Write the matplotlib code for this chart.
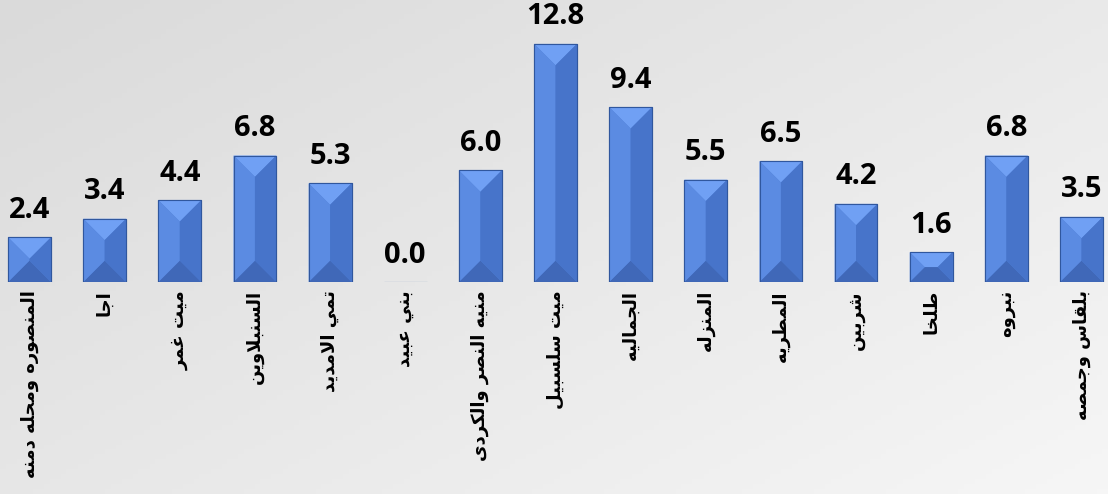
import numpy as np
import matplotlib
matplotlib.use('Agg')
import matplotlib.pyplot as plt
from matplotlib.patches import Polygon
from matplotlib.colors import LinearSegmentedColormap

districts = ['المنصوره ومحله دمنه', 'اجا', 'ميت غمر', 'السنبلاوين', 'تمي الامديد',
             'بني عبيد', 'منيه النصر والكردى', 'ميت سلسبيل', 'الجماليه', 'المنزله',
             'المطريه', 'شربين', 'طلخا', 'نبروه', 'بلقاس وجمصه']
values = [2.4, 3.4, 4.4, 6.8, 5.3, 0.0, 6.0, 12.8, 9.4, 5.5, 6.5, 4.2, 1.6, 6.8, 3.5]

# matplotlib has no arabic shaping, so pick presentation forms by hand
DUAL = {'ب': 0xFE8F, 'ت': 0xFE95, 'ث': 0xFE99, 'ج': 0xFE9D, 'ح': 0xFEA1, 'خ': 0xFEA5,
        'س': 0xFEB1, 'ش': 0xFEB5, 'ص': 0xFEB9, 'ض': 0xFEBD, 'ط': 0xFEC1, 'ظ': 0xFEC5,
        'ع': 0xFEC9, 'غ': 0xFECD, 'ف': 0xFED1, 'ق': 0xFED5, 'ك': 0xFED9, 'ل': 0xFEDD,
        'م': 0xFEE1, 'ن': 0xFEE5, 'ه': 0xFEE9, 'ي': 0xFEF1}
RIGHT = {'ا': 0xFE8D, 'أ': 0xFE83, 'إ': 0xFE87, 'آ': 0xFE81, 'ة': 0xFE93, 'د': 0xFEA9,
         'ذ': 0xFEAB, 'ر': 0xFEAD, 'ز': 0xFEAF, 'و': 0xFEED, 'ى': 0xFEEF, 'LA': 0xFEFB}


def shape(text):
    toks = []
    i = 0
    while i < len(text):
        if text[i] == 'ل' and i + 1 < len(text) and text[i + 1] == 'ا':
            toks.append('LA')
            i += 2
        else:
            toks.append(text[i])
            i += 1
    out = []
    for k, t in enumerate(toks):
        prev_j = k > 0 and toks[k - 1] in DUAL
        next_j = t in DUAL and k + 1 < len(toks) and (toks[k + 1] in DUAL or toks[k + 1] in RIGHT)
        if t in DUAL:
            b = DUAL[t]
            if prev_j and next_j:
                out.append(chr(b + 3))
            elif prev_j:
                out.append(chr(b + 1))
            elif next_j:
                out.append(chr(b + 2))
            else:
                out.append(chr(b))
        elif t in RIGHT:
            out.append(chr(RIGHT[t] + (1 if prev_j else 0)))
        else:
            out.append(t)
    return ''.join(out[::-1])


W, H = 1108, 494
fig = plt.figure(figsize=(W / 100, H / 100), dpi=100)

# background gradient, darker top-left to lighter bottom-right
bg = fig.add_axes([0, 0, 1, 1])
gx, gy = np.meshgrid(np.linspace(0, 1, 200), np.linspace(0, 1, 100))
grad = 0.55 * gx + 0.45 * (1 - gy)
bg_cmap = LinearSegmentedColormap.from_list('bg', ['#dadada', '#f6f6f6'])
bg.imshow(grad, cmap=bg_cmap, vmin=0, vmax=1, aspect='auto', origin='lower',
          extent=[0, 1, 0, 1])
bg.set_axis_off()

base_px = 212
ax = fig.add_axes([0, base_px / H, 1, (H - base_px) / H])
ax.patch.set_alpha(0)
x = np.arange(len(values))
xlim = (-0.393, 14.353)
ylim = (0, (H - base_px) / 18.6)
ax.set_xlim(*xlim)
ax.set_ylim(*ylim)
ax.set_axis_off()

width = 0.57
bars = ax.bar(x, values, width=width, color='#4f7fd6', edgecolor='#30579e', linewidth=0.8, zorder=2)

px_x = W / (xlim[1] - xlim[0])
px_y = (H - base_px) / (ylim[1] - ylim[0])
for rect in bars:
    x0 = rect.get_x()
    x1 = x0 + rect.get_width()
    y0 = 0
    y1 = rect.get_height()
    if y1 <= 0:
        continue
    b = min(rect.get_width() * px_x / 2, y1 * px_y / 2)
    bx, by = b / px_x, b / px_y
    ix0, ix1, iy0, iy1 = x0 + bx, x1 - bx, y0 + by, y1 - by
    faces = [
        ([(x0, y1), (x1, y1), (ix1, iy1), (ix0, iy1)], '#70a0f4'),
        ([(x0, y0), (x1, y0), (ix1, iy0), (ix0, iy0)], '#4068b8'),
        ([(x0, y0), (x0, y1), (ix0, iy1), (ix0, iy0)], '#5b8be2'),
        ([(x1, y0), (x1, y1), (ix1, iy1), (ix1, iy0)], '#4774ca'),
    ]
    for pts, c in faces:
        ax.add_patch(Polygon(pts, closed=True, facecolor=c, edgecolor='none', zorder=3))
    ax.add_patch(plt.Rectangle((x0, y0), x1 - x0, y1 - y0, fill=False,
                               edgecolor='#30579e', linewidth=0.8, zorder=4))

for xi, v in zip(x, values):
    ax.annotate(f'{v:.1f}', (xi, v), xytext=(0, 14), textcoords='offset points',
                ha='center', va='baseline', fontsize=21, fontweight='bold',
                family='Open Sans', color='black', zorder=5, annotation_clip=False)

for xi, name in zip(x, districts):
    ax.text(xi, -8 / px_y, shape(name), rotation=90, ha='center', va='top',
            fontsize=13, fontweight='bold', family='DejaVu Sans', color='black',
            clip_on=False)

fig.savefig('out.png', dpi=100)
